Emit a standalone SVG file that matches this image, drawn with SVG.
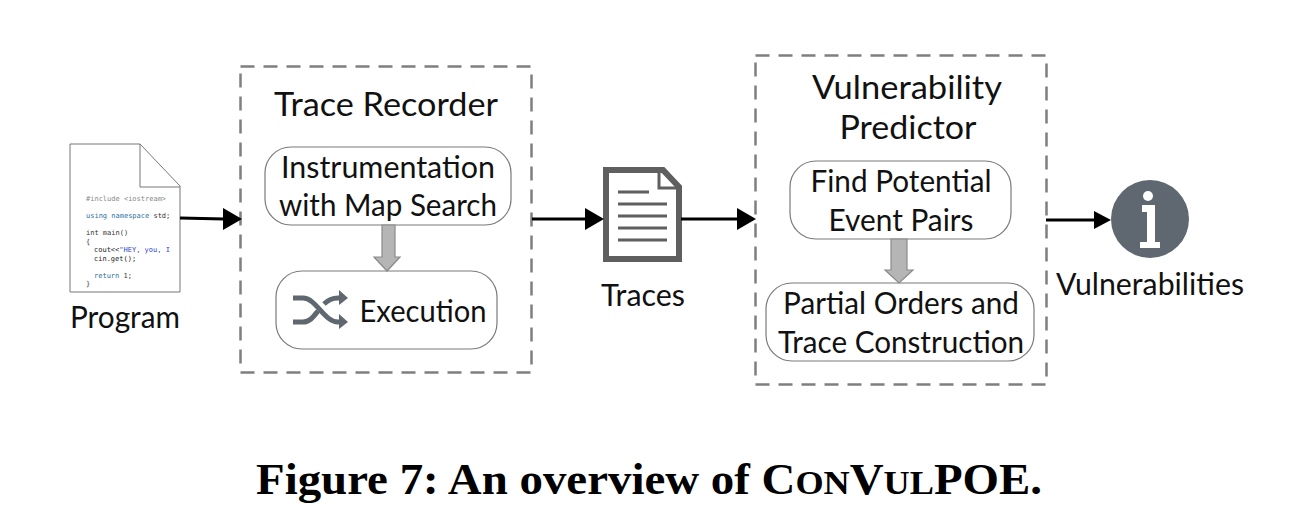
<svg xmlns="http://www.w3.org/2000/svg" width="1292" height="528" viewBox="0 0 1292 528">
<style>
.l{font-family:Lato,"Noto Sans","Liberation Sans",sans-serif;fill:#111;text-anchor:middle;font-size:30px}
.c{font-family:"DejaVu Sans Mono","Liberation Mono",monospace;font-size:7px}
.d{fill:none;stroke:#7f7f7f;stroke-width:2.5;stroke-dasharray:14 9}
.r{fill:#fff;stroke:#7a7a7a;stroke-width:1.2}
.b{fill:#b5b5b5;stroke:#8a8a8a;stroke-width:1.2}
.g{fill:none;stroke:#5f6771;stroke-width:5}
.a{stroke:#000;stroke-width:3;fill:none}
.h{fill:#000}
</style>
<rect width="1292" height="528" fill="#fff"/>
<g id="program">
<path d="M70 144H140L180 186V292H70Z" fill="#fff" stroke="#777" stroke-width="1"/>
<path d="M140 144V187H180" fill="none" stroke="#777" stroke-width="1"/>
<text class="c" x="86" y="201" fill="#888">#include &lt;iostream&gt;</text>
<text class="c" x="86" y="218" fill="#2a6f9e">using namespace <tspan fill="#333">std;</tspan></text>
<text class="c" x="86" y="235" fill="#333">int main()</text>
<text class="c" x="86" y="244" fill="#333">{</text>
<text class="c" x="94" y="252" fill="#222">cout&lt;&lt;<tspan fill="#2f3fd0">"HEY, you, I</tspan></text>
<text class="c" x="94" y="261" fill="#222">cin.get();</text>
<text class="c" x="94" y="278" fill="#2a6f9e">return <tspan fill="#333">1;</tspan></text>
<text class="c" x="86" y="286" fill="#333">}</text>
<text class="l" x="125" y="328" font-size="29" textLength="110" lengthAdjust="spacingAndGlyphs">Program</text>
</g>
<g id="trace-recorder">
<rect class="d" x="240.500" y="66.500" width="291" height="306"/>
<text class="l" x="386" y="116" style="font-size:32px" textLength="224" lengthAdjust="spacingAndGlyphs">Trace Recorder</text>
</g>
<g id="instrumentation">
<rect class="r" x="265" y="147" width="246" height="78" rx="26"/>
<text class="l" x="388" y="178" textLength="214" lengthAdjust="spacingAndGlyphs">Instrumentation</text>
<text class="l" x="388" y="216" textLength="218" lengthAdjust="spacingAndGlyphs">with Map Search</text>
</g>
<g id="execution">
<rect class="r" x="276" y="271" width="221" height="78" rx="26"/>
<path class="g" d="M293 298H303C316 298 324 322 338 322H342"/>
<path class="g" d="M293 322H303C310 322 314 316 318 311M324 304C328 300 332 298 338 298H342"/>
<path d="M339 290L348 298L339 305Z" fill="#5f6771"/>
<path d="M339 314L348 322L339 329Z" fill="#5f6771"/>
<text class="l" x="423" y="322" textLength="127" lengthAdjust="spacingAndGlyphs">Execution</text>
</g>
<g id="traces">
<path d="M606 170H663L679 187V259H606Z" fill="#fff" stroke="#5f5f5f" stroke-width="6"/>
<path d="M659 172V188H677" fill="none" stroke="#5f5f5f" stroke-width="3"/>
<path d="M618 192H649M618 204H667M618 216H667M618 228H667M618 240H667" stroke="#5f5f5f" stroke-width="3" fill="none"/>
<text class="l" x="643" y="306" font-size="29" textLength="84" lengthAdjust="spacingAndGlyphs">Traces</text>
</g>
<g id="vulnerability-predictor">
<rect class="d" x="755.500" y="55.500" width="291" height="329"/>
<text class="l" x="907" y="99" style="font-size:32px" textLength="190" lengthAdjust="spacingAndGlyphs">Vulnerability</text>
<text class="l" x="908" y="139" style="font-size:32px" textLength="137" lengthAdjust="spacingAndGlyphs">Predictor</text>
</g>
<g id="find-pairs">
<rect class="r" x="790" y="161" width="221" height="78" rx="26"/>
<text class="l" x="901" y="192" textLength="181" lengthAdjust="spacingAndGlyphs">Find Potential</text>
<text class="l" x="901" y="231" textLength="145" lengthAdjust="spacingAndGlyphs">Event Pairs</text>
</g>
<g id="partial-orders">
<rect class="r" x="766" y="283" width="268" height="78" rx="26"/>
<text class="l" x="901" y="314" textLength="236" lengthAdjust="spacingAndGlyphs">Partial Orders and</text>
<text class="l" x="901" y="353" textLength="246" lengthAdjust="spacingAndGlyphs">Trace Construction</text>
</g>
<g id="vulnerabilities">
<circle cx="1150" cy="219" r="39" fill="#5f6771"/>
<circle cx="1148" cy="196" r="5" fill="#fff"/>
<path d="M1142 205H1155V242H1160V248H1140V242H1147V212H1142Z" fill="#fff"/>
<text class="l" x="1150" y="295" font-size="29" textLength="188" lengthAdjust="spacingAndGlyphs">Vulnerabilities</text>
</g>
<g id="connectors">
<path class="a" d="M180 218L224 219"/><path class="h" d="M223 208L242 219L223 230Z"/>
<path class="a" d="M532 219H586"/><path class="h" d="M585 208L604 219L585 230Z"/>
<path class="a" d="M681 219H738"/><path class="h" d="M737 208L756 219L737 230Z"/>
<path class="a" d="M1046 220H1095"/><path class="h" d="M1094 211L1111 220L1094 229Z"/>
<path class="b" d="M382 225H395V257H400L387 271L374 257H382Z"/>
<path class="b" d="M891 239H907V270H913L899 283L885 270H891Z"/>
</g>
<text x="649" y="494" text-anchor="middle" font-family="'Liberation Serif',serif" font-weight="700" font-size="44" fill="#000" textLength="786" lengthAdjust="spacingAndGlyphs">Figure 7: An overview of C<tspan font-size="34">ON</tspan>V<tspan font-size="34">UL</tspan>POE.</text>
</svg>
